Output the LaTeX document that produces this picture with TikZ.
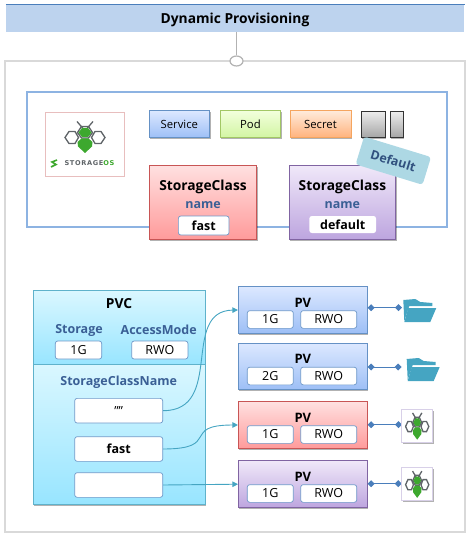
\documentclass[tikz,border=0pt]{standalone}
\usepackage{fontspec}
\setmainfont{Open Sans}
\newfontfamily\logofont[LetterSpace=10]{DejaVu Sans}
\usetikzlibrary{arrows.meta,shadows,shapes.geometric}
\definecolor{TitleBlue}{HTML}{BDD3EE}
\definecolor{FrameBlue}{HTML}{8DB3E2}
\definecolor{LabelBlue}{HTML}{3A5F95}
\definecolor{LinkTeal}{HTML}{45A5C2}
\definecolor{LinkBlue}{HTML}{4A7EBB}
\definecolor{BeeGreen}{HTML}{3DA82E}
\definecolor{BeeGrey}{HTML}{5F6468}
\definecolor{BlueTop}{HTML}{DCE8FF}
\definecolor{BlueEnd}{HTML}{9DBFF6}
\definecolor{GreenLine}{HTML}{A2C765}
\definecolor{GreenTop}{HTML}{F2FFDC}
\definecolor{GreenEnd}{HTML}{D2F5A3}
\definecolor{OrangeLine}{HTML}{F5A55F}
\definecolor{OrangeTop}{HTML}{FFEBDB}
\definecolor{OrangeEnd}{HTML}{FFB27C}
\definecolor{RedLine}{HTML}{C85555}
\definecolor{RedTop}{HTML}{FFE0E0}
\definecolor{RedEnd}{HTML}{FF9B9B}
\definecolor{PurpleLine}{HTML}{8064A2}
\definecolor{PurpleTop}{HTML}{F0E8F9}
\definecolor{PurpleEnd}{HTML}{BDA5DF}
\definecolor{CyanLine}{HTML}{5FB2CB}
\definecolor{CyanTop}{HTML}{DAF7FF}
\definecolor{CyanEnd}{HTML}{98E5FF}
\definecolor{LogoPink}{HTML}{E8BEBE}
\definecolor{IconLine}{HTML}{D8D0E8}
\definecolor{BadgeFill}{HTML}{ADD8E4}
\tikzset{
	softshadow/.style={drop shadow={shadow xshift=1pt,shadow yshift=-1.5pt,opacity=0.3,fill=black}},
	colorbox/.style={draw,line width=0.7pt,inner sep=0pt,softshadow},
	bluebox/.style={colorbox,draw=LinkBlue!85,top color=BlueTop,bottom color=BlueEnd},
	greenbox/.style={colorbox,draw=GreenLine,top color=GreenTop,bottom color=GreenEnd},
	orangebox/.style={colorbox,draw=OrangeLine,top color=OrangeTop,bottom color=OrangeEnd},
	greybox/.style={colorbox,draw=black!80,top color=black!7,bottom color=black!35},
	redbox/.style={colorbox,draw=RedLine,top color=RedTop,bottom color=RedEnd},
	purplebox/.style={colorbox,draw=PurpleLine,top color=PurpleTop,bottom color=PurpleEnd},
	cyanbox/.style={colorbox,draw=CyanLine,top color=CyanTop,bottom color=CyanEnd},
	valuebox/.style={draw=LinkBlue!80,line width=0.7pt,fill=white,rounded corners=2.5pt,inner sep=0pt},
	headtext/.style={font=\fontsize{13.8}{14}\selectfont\bfseries,inner sep=0pt},
	bluetext/.style={font=\fontsize{12.5}{13}\selectfont\bfseries,text=LabelBlue,inner sep=0pt},
	pvtext/.style={font=\fontsize{13}{13}\selectfont\bfseries,inner sep=0pt},
	valuetext/.style={font=\fontsize{12.5}{13}\selectfont},
	boldvalue/.style={font=\fontsize{12.5}{13}\selectfont\bfseries},
	boxtext/.style={font=\fontsize{11.3}{12}\selectfont},
	pvclink/.style={LinkTeal,line width=0.9pt,-{Triangle[length=5.5pt,width=5.5pt]}},
	storelink/.style={LinkBlue,line width=1pt,{Diamond[length=7pt,width=7pt]}-{Diamond[length=7pt,width=7pt]}},
	iconbox/.style={draw=IconLine,line width=0.8pt,fill=white,inner sep=0pt,softshadow},
	folder/.pic={
		\fill[LinkTeal] (0,1) -- (12,0) -- (17,3) -- (29,4) -- (29,7) -- (6,7) -- (1,22) -- cycle;
		\fill[LinkTeal] (5,9) -- (33,9) -- (27,23) -- (1,23) -- cycle;
	},
	bee/.pic={
		\draw[BeeGrey,line width=1.3pt] (-2,-9) -- (-8,-16) (2,-9) -- (8,-16);
		\draw[BeeGrey,line width=1.3pt] (-6.5,0) -- (-10,-6) -- (-16,-6) -- (-20,0) -- (-16,6) -- (-10,6) -- cycle;
		\draw[BeeGrey,line width=1.3pt] (6.5,0) -- (10,-6) -- (16,-6) -- (20,0) -- (16,6) -- (10,6) -- cycle;
		\draw[BeeGrey,line width=1.3pt] (-7.5,-5) -- (-3.5,-11) -- (3.5,-11) -- (7.5,-5) -- (3.5,0.5) -- (-3.5,0.5) -- cycle;
		\fill[BeeGreen] (-6.5,-5) -- (-3,-9.5) -- (3,-9.5) -- (6.5,-5) -- (3,-0.5) -- (-3,-0.5) -- cycle;
		\fill[BeeGreen] (-3.5,1) -- (3.5,1) -- (7.5,4.5) -- (7,9) -- (0,15.5) -- (-7,9) -- (-7.5,4.5) -- cycle;
	},
}

\begin{document}
\begin{tikzpicture}[x=1pt,y=1pt,yscale=-1,xscale=1]
		\useasboundingbox (0,0) rectangle (471,537);

		% The title bar and its line down to the outer frame
		\node[fill=TitleBlue,minimum width=458.5pt,minimum height=27pt,inner sep=0pt] (titleBar) at (235.2,18.5) {};
		\node[headtext] (titleText) at (235,20) {Dynamic Provisioning};
		\draw[LinkBlue,line width=1pt] (titleBar.north west) -- (titleBar.north east);
		\node[draw=black!15,line width=2pt,minimum width=460pt,minimum height=471pt,inner sep=0pt] (outerFrame) at (235,296.5) {};
		\node[ellipse,draw=black!30,line width=1.2pt,fill=white,minimum width=13pt,minimum height=10pt,inner sep=0pt] (ringMark) at (236.5,61) {};
		\draw[black!30,line width=0.8pt] (titleBar.south -| ringMark) -- (ringMark.north);

		% The blue frame at the top
		\node[draw=FrameBlue,line width=2pt,minimum width=420pt,minimum height=135pt,inner sep=0pt] (blueFrame) at (236.5,159.5) {};

		% The logo
		\node[draw=LogoPink,line width=0.7pt,minimum width=79pt,minimum height=64pt,inner sep=0pt] (logoBox) at (84.5,144) {};
		\pic[transform shape] at (85,137.5) {bee};
		\node[inner sep=0pt,font=\logofont\fontsize{6.6}{7}\selectfont\bfseries,text=BeeGrey] (logoText) at (89.5,163.5) {STORAGE\textcolor{BeeGreen}{OS}};
		\draw[BeeGreen,line width=1.6pt] (57,160) -- (52,162) -- (56,164.5) -- (51,167);

		% The small boxes in the first row
		\node[bluebox,minimum width=60.5pt,minimum height=27pt,boxtext] (serviceBox) at (179.3,124.2) {Service};
		\node[greenbox,minimum width=60.5pt,minimum height=27pt,boxtext] (podBox) at (250.4,124.2) {Pod};
		\node[orangebox,minimum width=61pt,minimum height=27pt,boxtext] (secretBox) at (320.5,124.2) {Secret};
		\node[greybox,minimum width=24pt,minimum height=26pt] (greyBoxA) at (373,124.2) {};
		\node[greybox,minimum width=13pt,minimum height=26pt] (greyBoxB) at (396.7,124.2) {};

		% The two StorageClass boxes
		\node[redbox,minimum width=107.4pt,minimum height=73.7pt] (fastClass) at (203,202.2) {};
		\node[headtext] (fastTitle) at (203,187) {StorageClass};
		\node[bluetext] (fastName) at (203,205) {name};
		\node[valuebox,minimum width=50.7pt,minimum height=19pt,boldvalue] (fastValue) at (203.7,225.5) {fast};

		\node[purplebox,minimum width=106.7pt,minimum height=73.7pt] (defaultClass) at (342.4,202.2) {};
		\node[headtext] (defaultTitle) at (342.4,187) {StorageClass};
		\node[bluetext] (defaultName) at (342.4,205) {name};
		\node[valuebox,draw=none,minimum width=66.7pt,minimum height=17pt,boldvalue] (defaultValue) at (342.7,224.5) {default};

		% The badge on the purple box
		\node[fill=BadgeFill,rounded corners=3pt,rotate=-17,minimum width=70pt,minimum height=29pt,inner sep=0pt,text=LabelBlue!85!black,boldvalue] (defaultBadge) at (393.3,160.7) {Default};

		% The PVC box
		\node[cyanbox,minimum width=171.7pt,minimum height=73.6pt] (pvcTop) at (119.2,327.5) {};
		\node[cyanbox,minimum width=171.7pt,minimum height=139.7pt] (pvcBottom) at (119.2,434.2) {};
		\node[headtext] (pvcTitle) at (119,304) {PVC};
		\node[bluetext] (storageLabel) at (79,330) {Storage};
		\node[bluetext] (modeLabel) at (158.7,330) {AccessMode};
		\node[valuebox,minimum width=46.4pt,minimum height=18pt,valuetext] (storageValue) at (78.5,350) {1G};
		\node[valuebox,minimum width=56.3pt,minimum height=18pt,valuetext] (modeValue) at (159.8,350) {RWO};
		\node[bluetext] (classLabel) at (118.7,382) {StorageClassName};
		\node[valuebox,minimum width=88pt,minimum height=24.7pt,valuetext] (claimEmpty) at (118.7,410.7) {""};
		\node[valuebox,minimum width=88pt,minimum height=24.7pt,boldvalue] (claimFast) at (118.7,449) {fast};
		\node[valuebox,minimum width=88pt,minimum height=24.7pt] (claimBlank) at (118.7,485) {};

		% The four PV boxes
		\node[bluebox,minimum width=129pt,minimum height=46.6pt] (pvOne) at (302.8,310) {};
		\node[pvtext] (pvOneTitle) at (302.8,302.5) {PV};
		\node[valuebox,minimum width=46pt,minimum height=17.7pt,valuetext] (pvOneSize) at (270.3,319.5) {1G};
		\node[valuebox,minimum width=56pt,minimum height=17.7pt,valuetext] (pvOneMode) at (328.7,319.5) {RWO};

		\node[bluebox,minimum width=129pt,minimum height=46.4pt] (pvTwo) at (302.8,366.5) {};
		\node[pvtext] (pvTwoTitle) at (302.8,359) {PV};
		\node[valuebox,minimum width=46pt,minimum height=17.7pt,valuetext] (pvTwoSize) at (270.3,376) {2G};
		\node[valuebox,minimum width=56pt,minimum height=17.7pt,valuetext] (pvTwoMode) at (328.7,376) {RWO};

		\node[redbox,minimum width=129pt,minimum height=46.6pt] (pvThree) at (302.8,425) {};
		\node[pvtext] (pvThreeTitle) at (302.8,417.5) {PV};
		\node[valuebox,minimum width=46pt,minimum height=17.7pt,valuetext] (pvThreeSize) at (270.3,434.5) {1G};
		\node[valuebox,minimum width=56pt,minimum height=17.7pt,valuetext] (pvThreeMode) at (328.7,434.5) {RWO};

		\node[purplebox,minimum width=129pt,minimum height=47pt] (pvFour) at (302.8,484.2) {};
		\node[pvtext] (pvFourTitle) at (302.8,476.5) {PV};
		\node[valuebox,minimum width=46pt,minimum height=17.7pt,valuetext] (pvFourSize) at (270.3,493.5) {1G};
		\node[valuebox,minimum width=56pt,minimum height=17.7pt,valuetext] (pvFourMode) at (328.7,493.5) {RWO};

		% The arrows from the PVC to the PV boxes
		\draw[pvclink] (claimEmpty.east) .. controls (225,410.7) and (180,311) .. (pvOne.west);
		\draw[pvclink] (claimFast.east) .. controls (222,449) and (180,425) .. (pvThree.west);
		\draw[pvclink] (claimBlank.east) -- (pvFour.west);

		% The free ends on the right
		\coordinate (folderOne) at (402,307.7);
		\coordinate (folderTwo) at (401.7,367);
		\coordinate (beeOne) at (402,424.7);
		\coordinate (beeTwo) at (401.7,483.7);

		% The lines from the PV boxes to the icons
		\draw[storelink] (pvOne.east |- folderOne) -- (folderOne);
		\draw[storelink] (pvTwo.east |- folderTwo) -- (folderTwo);
		\draw[storelink] (pvThree.east |- beeOne) -- (beeOne);
		\draw[storelink] (pvFour.east |- beeTwo) -- (beeTwo);

		% The folders
		\pic[transform shape] at (403.3,299) {folder};
		\pic[transform shape] at (406.7,358) {folder};

		% The small bee icons
		\node[iconbox,minimum width=31pt,minimum height=33.4pt] (beeBoxOne) at (417.2,426) {};
		\pic[transform shape,xscale=0.58,yscale=0.85] at (417.2,426.5) {bee};
		\node[iconbox,minimum width=31pt,minimum height=33pt] (beeBoxTwo) at (417.2,484.2) {};
		\pic[transform shape,xscale=0.58,yscale=0.85] at (417.2,484.7) {bee};
	\end{tikzpicture}
\end{document}
